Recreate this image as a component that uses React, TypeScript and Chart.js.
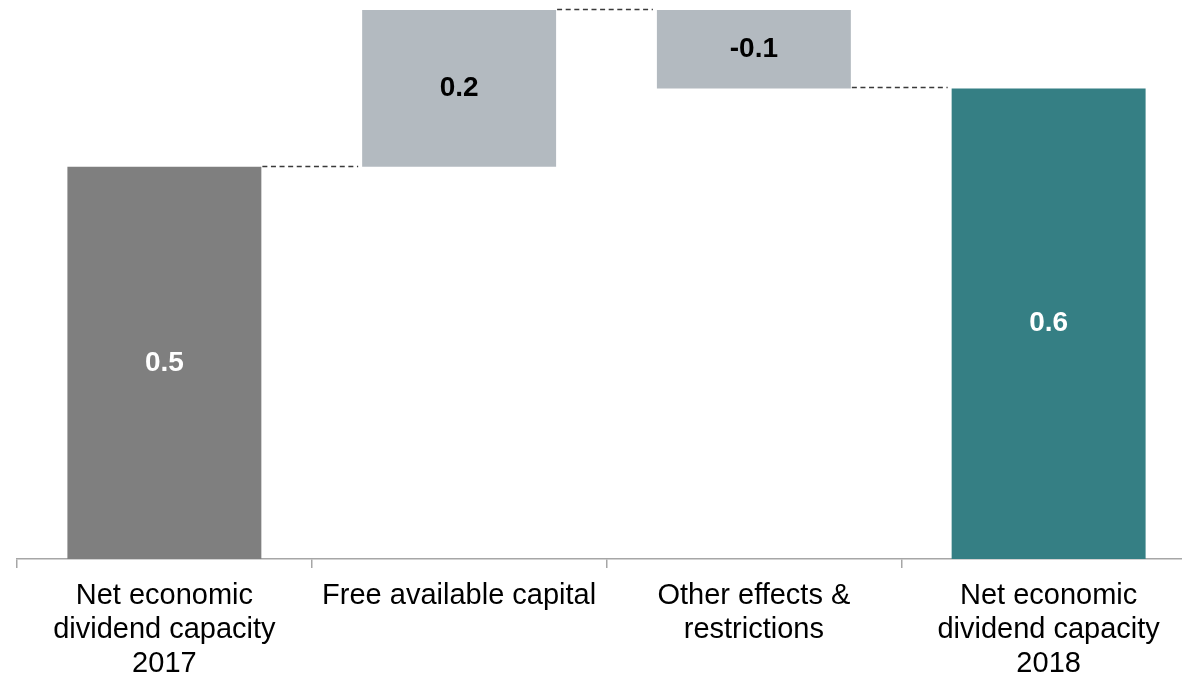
import React, { useEffect, useRef } from "react";
import { Chart, registerables } from "chart.js";

Chart.register(...registerables);

const categories: string[][] = [
  ["Net economic", "dividend capacity", "2017"],
  ["Free available capital"],
  ["Other effects &", "restrictions"],
  ["Net economic", "dividend capacity", "2018"],
];
const values = [0.5, 0.2, -0.1, 0.6];
const isTotal = [true, false, false, true];
const valueLabels = ["0.5", "0.2", "-0.1", "0.6"];
const barColors = ["#7f7f7f", "#b3bac0", "#b3bac0", "#357f84"];
const labelColors = ["#ffffff", "#000000", "#000000", "#ffffff"];
const yMin = 0;
const yMax = 0.7;

function buildRanges() {
  const ranges: [number, number][] = [];
  const levels: number[] = [];
  let running = 0;
  values.forEach((v, i) => {
    if (isTotal[i]) {
      ranges.push([0, v]);
      running = v;
    } else {
      const a = running;
      const b = running + v;
      ranges.push([Math.min(a, b), Math.max(a, b)]);
      running = b;
    }
    levels.push(running);
  });
  return { ranges, levels };
}

const FONT = "'Liberation Sans', Arial, Helvetica, sans-serif";

export default function App() {
  const ref = useRef<HTMLCanvasElement | null>(null);

  useEffect(() => {
    if (!ref.current) return;
    const { ranges, levels } = buildRanges();

    const overlay = {
      id: "waterfallOverlay",
      afterDatasetsDraw(chart: any) {
        const ctx = chart.ctx;
        const meta = chart.getDatasetMeta(0);
        const y = chart.scales.y;
        ctx.save();
        ctx.strokeStyle = "#3a3a3a";
        ctx.lineWidth = 1.5;
        ctx.setLineDash([5, 3.6]);
        for (let i = 0; i < meta.data.length - 1; i++) {
          const a = meta.data[i];
          const b = meta.data[i + 1];
          const py = Math.round(y.getPixelForValue(levels[i])) - 0.5;
          const x1 = a.x + a.width / 2 + 1;
          const x2 = b.x - b.width / 2 - 4;
          ctx.beginPath();
          ctx.moveTo(x1, py);
          ctx.lineTo(x2, py);
          ctx.stroke();
        }
        ctx.setLineDash([]);
        ctx.font = `bold 28px ${FONT}`;
        ctx.textAlign = "center";
        ctx.textBaseline = "middle";
        meta.data.forEach((el: any, i: number) => {
          ctx.fillStyle = labelColors[i];
          ctx.fillText(valueLabels[i], el.x, (el.y + el.base) / 2);
        });
        ctx.restore();
      },
    };

    const chart = new Chart(ref.current, {
      type: "bar",
      data: {
        labels: categories,
        datasets: [
          {
            data: ranges as any,
            backgroundColor: barColors,
            borderWidth: 0,
            barPercentage: 0.658,
            categoryPercentage: 1,
          },
        ],
      },
      options: {
        responsive: false,
        animation: false,
        devicePixelRatio: 1,
        layout: { padding: { left: 17, right: 4, top: 10, bottom: 0 } },
        plugins: {
          legend: { display: false },
          tooltip: { enabled: false },
        },
        scales: {
          x: {
            offset: true,
            grid: {
              offset: true,
              drawOnChartArea: false,
              drawTicks: true,
              tickLength: 9,
              color: "#a6a6a6",
              lineWidth: 1.5,
            },
            border: { display: true, color: "#a6a6a6", width: 1.5 },
            ticks: {
              color: "#000000",
              font: { family: FONT, size: 29, lineHeight: 1.17 },
              padding: 11,
              maxRotation: 0,
              autoSkip: false,
            },
            afterFit(scale: any) {
              scale.height = 114;
            },
          },
          y: {
            display: false,
            min: yMin,
            max: yMax,
          },
        },
      },
      plugins: [overlay],
    });
    return () => chart.destroy();
  }, []);

  return (
    <div
      style={{
        position: "fixed",
        left: 0,
        top: 0,
        width: 1182,
        height: 673,
        overflow: "hidden",
        background: "#ffffff",
      }}
    >
      <canvas ref={ref} width={1200} height={673} style={{ display: "block" }} />
    </div>
  );
}
